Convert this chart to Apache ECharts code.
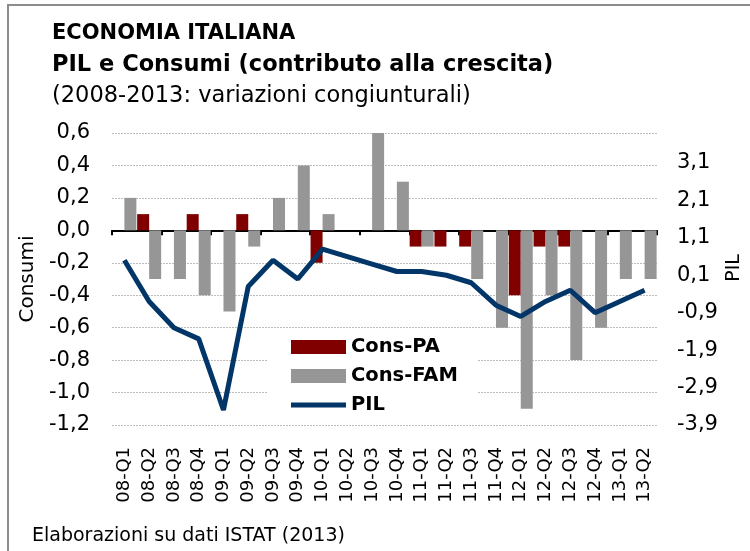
<!DOCTYPE html>
<html>
<head>
<meta charset="utf-8">
<script src="https://cdn.jsdelivr.net/npm/echarts@6/dist/echarts.min.js"></script>
<style>
  html, body { margin: 0; padding: 0; background: #fff; }
  #chart { width: 750px; height: 551px; }
</style>
</head>
<body>
<div id="chart"></div>
<script>
// trimestri 2008-2013
var categories = ['08-Q1', '08-Q2', '08-Q3', '08-Q4', '09-Q1', '09-Q2', '09-Q3', '09-Q4',
  '10-Q1', '10-Q2', '10-Q3', '10-Q4', '11-Q1', '11-Q2', '11-Q3', '11-Q4',
  '12-Q1', '12-Q2', '12-Q3', '12-Q4', '13-Q1', '13-Q2'];
// contributo consumi PA (asse sinistro)
var consPA = [0, 0.1, 0, 0.1, 0, 0.1, 0, 0, -0.2, 0, 0, 0, -0.1, -0.1, -0.1, 0, -0.4, -0.1, -0.1, 0, 0, 0];
// contributo consumi famiglie (asse sinistro)
var consFAM = [0.2, -0.3, -0.3, -0.4, -0.5, -0.1, 0.2, 0.4, 0.1, 0, 0.6, 0.3, -0.1, 0, -0.3, -0.6, -1.1, -0.4, -0.8, -0.6, -0.3, -0.3];
// PIL variazione congiunturale (asse destro)
var pil = [0.5, -0.6, -1.3, -1.6, -3.5, -0.2, 0.5, 0.0, 0.8, 0.6, 0.4, 0.2, 0.2, 0.1, -0.1, -0.7, -1.0, -0.6, -0.3, -0.9, -0.6, -0.3];

var FONT = "'DejaVu Sans', sans-serif";
var virgola = function (v) { return v.toFixed(1).replace('.', ','); };

var myChart = echarts.init(document.getElementById('chart'));
var option = {
  animation: false,
  textStyle: { fontFamily: FONT, color: '#000' },
  grid: { left: 112, right: 93, top: 133, bottom: 126, outerBoundsMode: 'none' },
  graphic: [
    { type: 'line', shape: { x1: 8, y1: 5, x2: 750, y2: 5 }, style: { stroke: '#8c8c8c', lineWidth: 2 } },
    { type: 'line', shape: { x1: 8, y1: 4, x2: 8, y2: 551 }, style: { stroke: '#8c8c8c', lineWidth: 2 } },
    { type: 'text', left: 52, top: 23, style: { text: 'ECONOMIA ITALIANA', font: 'bold 21px ' + FONT, fill: '#000' } },
    { type: 'text', left: 52, top: 54, style: { text: 'PIL e Consumi (contributo alla crescita)', font: 'bold 22.5px ' + FONT, fill: '#000' } },
    { type: 'text', left: 52, top: 85, style: { text: '(2008-2013: variazioni congiunturali)', font: '22.5px ' + FONT, fill: '#000' } },
    { type: 'text', left: 32, top: 527, style: { text: 'Elaborazioni su dati ISTAT (2013)', font: '19px ' + FONT, fill: '#000' } }
  ],
  legend: {
    orient: 'vertical',
    left: 267,
    top: 330,
    padding: [7, 20, 6, 24],
    backgroundColor: '#fff',
    itemWidth: 55,
    itemHeight: 14,
    itemGap: 9,
    itemTextGap: 6,
    textStyle: { fontFamily: FONT, fontWeight: 'bold', fontSize: 19.5, color: '#000' },
    data: [
      { name: 'Cons-PA', icon: 'rect' },
      { name: 'Cons-FAM', icon: 'rect' },
      { name: 'PIL', icon: 'path://M0,0H55V5H0Z' }
    ]
  },
  xAxis: [
    {
      type: 'category',
      data: categories,
      position: 'bottom',
      axisLine: { show: false, onZero: false },
      axisTick: { show: false },
      axisLabel: { rotate: 90, margin: 22, fontSize: 18, color: '#000', padding: [0, 0, 6, 0] }
    },
    {
      type: 'category',
      data: categories,
      position: 'top',
      axisLine: { show: true, onZero: true, onZeroAxisIndex: 0, lineStyle: { color: '#000', width: 2 } },
      axisTick: { show: true, inside: true, length: 5, lineStyle: { color: '#000', width: 2 } },
      axisLabel: { show: false },
      splitLine: { show: false }
    }
  ],
  yAxis: [
    {
      type: 'value',
      name: 'Consumi',
      nameLocation: 'middle',
      nameGap: 74,
      nameMoveOverlap: false,
      nameTextStyle: { fontSize: 20, color: '#000' },
      min: -1.2,
      max: 0.6,
      interval: 0.2,
      axisLine: { show: false },
      axisTick: { show: false },
      axisLabel: { fontSize: 21, margin: 22, color: '#000', formatter: virgola },
      splitLine: { lineStyle: { color: '#bdbdbd', type: [2, 1], width: 1 } }
    },
    {
      type: 'value',
      name: 'PIL',
      nameLocation: 'middle',
      nameGap: 68,
      nameMoveOverlap: false,
      nameTextStyle: { fontSize: 19, color: '#000', padding: [0, 0, 0, 22] },
      min: -3.9,
      max: 3.9,
      interval: 1,
      axisLine: { show: false },
      axisTick: { show: false },
      axisLabel: { fontSize: 21, margin: 20, color: '#000', showMaxLabel: false, formatter: virgola },
      splitLine: { show: false }
    }
  ],
  series: [
    {
      name: 'Cons-PA',
      type: 'bar',
      data: consPA,
      barWidth: 12,
      barGap: '0%',
      itemStyle: { color: '#800000' }
    },
    {
      name: 'Cons-FAM',
      type: 'bar',
      data: consFAM,
      barWidth: 12,
      barGap: '0%',
      itemStyle: { color: '#969696' }
    },
    {
      name: 'PIL',
      type: 'line',
      yAxisIndex: 1,
      data: pil,
      symbol: 'none',
      lineStyle: { color: '#033668', width: 5 },
      itemStyle: { color: '#033668' },
      z: 5
    }
  ]
};
option && myChart.setOption(option);
</script>
</body>
</html>
